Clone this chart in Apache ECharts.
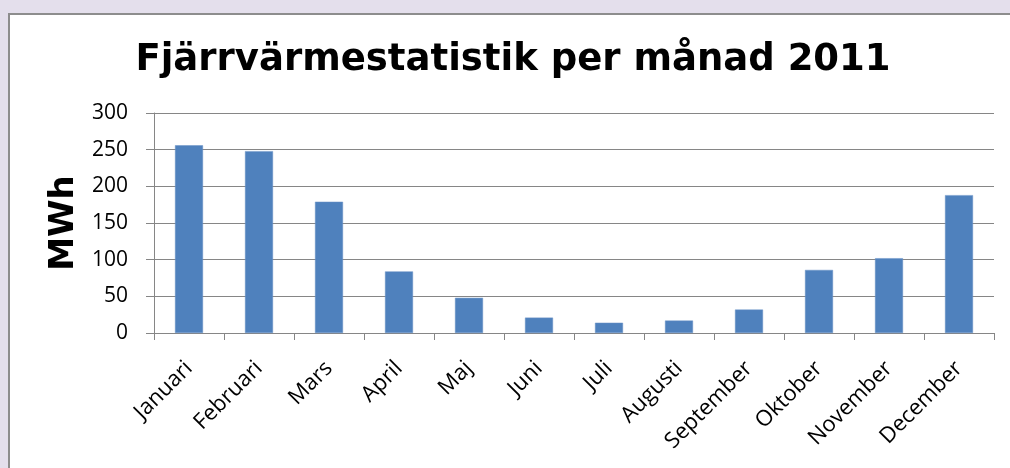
<!DOCTYPE html>
<html>
<head>
<meta charset="utf-8">
<script src="https://cdn.jsdelivr.net/npm/echarts@6/dist/echarts.min.js"></script>
<style>
  html, body { margin: 0; padding: 0; }
  body { width: 1010px; height: 468px; background: #e4dfec; position: relative; overflow: hidden; }
  #frame {
    position: absolute; left: 8px; top: 13px; width: 1010px; height: 470px;
    background: #fff; border-left: 2px solid #8d8d8d; border-top: 2px solid #8d8d8d;
  }
  #chart { position: absolute; left: 0; top: 0; width: 1010px; height: 468px; }
</style>
</head>
<body>
<div id="frame"></div>
<div id="chart"></div>
<script>
const months = ['Januari', 'Februari', 'Mars', 'April', 'Maj', 'Juni', 'Juli',
  'Augusti', 'September', 'Oktober', 'November', 'December'];
const mwh = [256, 248, 179, 84, 48, 21, 14, 17, 32, 86, 102, 188];
const titleText = 'Fjärrvärmestatistik per månad 2011';
const yName = 'MWh';

const chart = echarts.init(document.getElementById('chart'));
const gridColor = '#868686';

chart.setOption({
  animation: false,
  backgroundColor: 'transparent',
  title: {
    text: titleText,
    left: 508,
    textAlign: 'center',
    top: 37,
    textStyle: {
      fontFamily: 'DejaVu Sans',
      fontWeight: 'bold',
      fontSize: 37,
      color: '#000'
    }
  },
  grid: {
    left: 154,
    right: 16,
    top: 113,
    bottom: 135,
    containLabel: false
  },
  xAxis: {
    type: 'category',
    data: months,
    axisLine: { lineStyle: { color: gridColor, width: 1 } },
    axisTick: { show: true, length: 7, lineStyle: { color: gridColor } },
    axisLabel: {
      rotate: 45,
      interval: 0,
      margin: 32,
      color: '#000',
      fontFamily: 'Open Sans',
      fontSize: 22
    }
  },
  yAxis: {
    type: 'value',
    min: 0,
    max: 300,
    interval: 50,
    name: yName,
    nameLocation: 'middle',
    nameGap: 66,
    nameRotate: 90,
    nameTextStyle: {
      fontFamily: 'DejaVu Sans',
      fontWeight: 'bold',
      fontSize: 34,
      color: '#000'
    },
    axisLine: { show: true, lineStyle: { color: gridColor, width: 1 } },
    axisTick: { show: true, length: 8, lineStyle: { color: gridColor } },
    axisLabel: {
      margin: 26,
      color: '#000',
      fontFamily: 'Open Sans',
      fontSize: 21
    },
    splitLine: { show: true, lineStyle: { color: gridColor, width: 1 } }
  },
  series: [{
    type: 'bar',
    data: mwh,
    barCategoryGap: '60%',
    itemStyle: { color: '#4f81bd', borderColor: '#6a93c6', borderWidth: 0.5 }
  }]
});
</script>
</body>
</html>
